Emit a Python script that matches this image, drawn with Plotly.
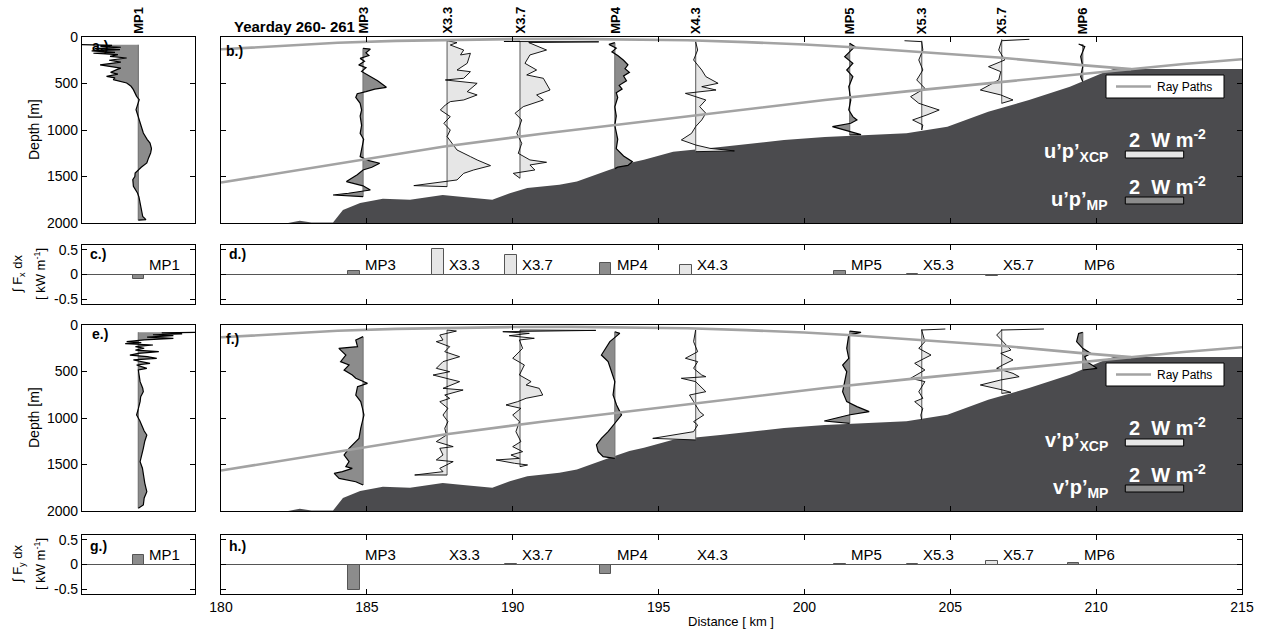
import plotly.graph_objects as go

W, H = 1262, 629
FONT = "Liberation Sans"

# ---------------- data ----------------
STATIONS = ["MP3", "X3.3", "X3.7", "MP4", "X4.3", "MP5", "X5.3", "X5.7", "MP6"]
STATION_KM = [184.87, 187.75, 190.25, 193.5, 196.27, 201.55, 204.02, 206.76, 209.54]
STATION_KIND = ["MP", "XCP", "XCP", "MP", "XCP", "MP", "XCP", "XCP", "MP"]

# depth-integrated fluxes [kW m^-1]
FX_MP1 = -0.10
FY_MP1 = 0.20
FX_INT = [0.08, 0.52, 0.39, 0.24, 0.19, 0.08, 0.02, -0.035, -0.01]
FY_INT = [-0.52, -0.02, 0.005, -0.20, -0.01, 0.01, 0.02, 0.08, 0.03]

# bathymetry along the section (km, depth m)
BATHY_KM = [180, 182.3, 182.7, 183.1, 183.84, 184.18, 184.77, 185.55, 186.48, 187.6, 188.3,
            189.3, 189.9, 190.5, 191.6, 192.2, 193.3, 194.0, 194.5, 195.2, 195.5, 197.2,
            199.3, 200.7, 203.5, 204.9, 206.3, 207.7, 209.1, 210.3, 210.6, 215]
BATHY_DEPTH = [2000, 2000, 1975, 1995, 1995, 1860, 1785, 1740, 1750, 1700, 1720,
               1750, 1680, 1625, 1590, 1555, 1430, 1355, 1320, 1260, 1235, 1180,
               1107, 1075, 1035, 965, 805, 677, 535, 376, 344, 344]

# ray paths (km, depth m)
RAY_A_KM = [180, 184, 187.6, 191, 194, 197, 200.7, 203.5, 206.3, 209, 211.2, 213, 215]
RAY_A_DEPTH = [1565, 1360, 1180, 1040, 927, 820, 677, 585, 497, 415, 345, 290, 240]
RAY_B_KM = [180, 182, 184, 186, 188, 190, 192, 194, 196, 198, 200, 201.5, 203.9, 206.65, 209.4, 211.2]
RAY_B_DEPTH = [132, 95, 62, 42, 30, 22, 20, 24, 35, 55, 80, 108, 162, 220, 300, 345]

# flux profiles: (depth m, flux W m^-2)
U_MP1 = [(82, -1.94), (90, -0.9), (100, -1.3), (110, -0.6), (125, -1.5), (136, -0.63), (150, -1.6),
         (165, -0.8), (175, -1.54), (190, -0.7), (208, -0.97), (226, -0.4), (250, -1.0), (270, -0.6),
         (300, -1.31), (315, -1.0), (335, -0.6), (351, -0.74), (380, -0.95), (400, -0.7), (423, -1.09),
         (440, -0.8), (459, -0.86), (494, -0.4), (530, -0.25), (566, -0.17), (638, -0.06), (674, 0.03),
         (781, -0.08), (860, 0.0), (925, 0.06), (1032, 0.17), (1100, 0.3), (1140, 0.4), (1200, 0.45),
         (1247, 0.42), (1300, 0.35), (1354, 0.29), (1400, 0.1), (1426, 0.0), (1462, -0.11), (1500, -0.12),
         (1534, -0.19), (1605, -0.17), (1640, -0.1), (1677, -0.03), (1720, 0.02), (1784, 0.06),
         (1840, 0.09), (1892, 0.11), (1930, 0.15), (1963, 0.26), (1970, 0.0)]
V_MP1 = [(79, 1.94), (85, 0.8), (95, 1.5), (105, 0.5), (115, 1.2), (130, 0.3), (143, 1.2), (160, 0.2),
         (179, -0.4), (190, 0.1), (200, -0.45), (215, 0.5), (233, -0.1), (250, 0.2), (270, -0.1),
         (287, 0.7), (305, 0.0), (323, -0.29), (340, 0.3), (358, 0.63), (376, -0.17), (395, 0.2),
         (412, 0.4), (430, -0.06), (450, 0.1), (466, 0.29), (484, 0.0), (540, 0.02), (609, 0.06),
         (680, 0.15), (717, 0.17), (770, 0.08), (824, 0.06), (900, 0.0), (968, -0.06), (1030, 0.05),
         (1075, 0.11), (1140, 0.2), (1183, 0.29), (1250, 0.22), (1326, 0.17), (1400, 0.1), (1469, 0.06),
         (1540, 0.14), (1613, 0.17), (1700, 0.22), (1792, 0.29), (1860, 0.2), (1935, 0.17), (1971, 0.0)]

U_MP3 = [(122, 0), (130, 0.25), (170, 0.1), (200, 0.2), (230, -0.1), (260, 0.05), (300, -0.15),
         (330, 0.1), (370, -0.05), (420, 0.25), (470, 0.5), (541, 0.8), (560, 0.4), (588, 0.1),
         (610, -0.2), (650, -0.25), (713, -0.1), (785, -0.05), (850, -0.1), (950, -0.05), (1036, -0.1),
         (1100, 0.02), (1200, -0.05), (1286, -0.1), (1330, 0.2), (1358, 0.57), (1400, 0.3), (1430, 0),
         (1480, -0.2), (1555, -0.57), (1600, 0), (1645, 0.25), (1680, -0.5), (1699, -1.03), (1717, 0)]
U_X33 = [(40, 0), (61, 0.34), (86, 0.11), (140, 0.57), (193, 0.46), (175, 0.8), (283, 0.69),
         (355, 0.34), (373, 0.8), (444, 0.57), (462, -0.06), (480, 0.46), (498, 1.03), (588, 0.69),
         (623, 1.03), (677, 0.57), (695, 0.11), (731, -0.06), (785, -0.23), (856, 0.11), (928, -0.11),
         (1000, 0.11), (1071, 0), (1143, 0.17), (1215, 0.34), (1286, 0.8), (1322, 1.03), (1383, 1.49),
         (1430, 0.91), (1466, 0.57), (1537, 0.34), (1598, -1.14), (1609, 0)]
U_X37 = [(45, 0), (48, -0.55), (52, 2.7), (60, 0.3), (140, 0.91), (193, 0.34), (283, 0.17),
         (355, 0.57), (408, 0.23), (444, 0.8), (570, 1.03), (623, 0.57), (677, 0.8), (749, 0.11),
         (820, -0.17), (892, 0.06), (1036, -0.11), (1143, 0.06), (1251, -0.06), (1322, 0.34),
         (1347, 0.91), (1376, 0.34), (1430, 0.51), (1466, -0.23), (1519, 0)]
U_MP4 = [(61, 0), (80, -0.2), (120, 0.05), (160, -0.1), (200, 0.1), (250, 0.3), (300, 0.45),
         (340, 0.35), (380, 0.5), (420, 0.3), (470, 0.4), (520, 0.15), (560, 0.25), (600, 0.05),
         (650, 0.1), (750, 0), (850, 0.05), (950, 0), (1100, 0.1), (1200, 0.05), (1280, 0.3),
         (1340, 0.6), (1380, 0.45), (1400, 0.1), (1415, 0)]
U_X43 = [(50, 0), (140, 0.07), (247, -0.07), (355, 0.21), (426, 0.35), (498, 0.77), (534, 0.21),
         (570, 0.7), (606, -0.35), (641, 0), (677, 0.35), (749, 0.14), (820, 0.35), (892, 0.21),
         (964, 0), (1036, -0.14), (1107, -0.49), (1161, 0), (1197, 0.49), (1225, 1.33), (1233, 0)]
U_MP5 = [(68, 0), (104, 0.18), (211, -0.17), (283, 0.11), (355, -0.1), (426, 0.11), (534, -0.03),
         (677, 0.04), (785, -0.03), (856, 0.11), (892, 0.25), (928, 0.04), (964, -0.59), (1018, -0.03),
         (1050, 0.39), (1054, 0)]
U_X53 = [(40, -0.59), (50, 0), (140, 0.04), (247, -0.1), (355, 0.04), (462, -0.17), (552, 0.11),
         (641, -0.38), (713, -0.1), (785, 0.6), (838, 0.18), (892, -0.31), (946, 0.04), (1000, 0)]
U_X57 = [(25, 0.95), (40, 0), (140, -0.1), (247, 0.11), (319, -0.45), (373, -0.03), (462, -0.1),
         (570, -0.73), (623, -0.03), (677, 0.39), (713, 0)]
U_MP6 = [(75, -0.14), (104, 0.07), (211, -0.07), (319, 0), (426, -0.07), (480, 0)]

V_MP3 = [(125, 0), (161, -0.25), (233, -0.19), (251, -0.83), (323, -0.59), (394, -0.77), (430, -0.48),
         (484, -0.65), (538, -0.37), (573, -0.25), (627, 0.15), (663, -0.19), (753, -0.25), (824, -0.08),
         (896, -0.02), (968, 0.03), (1111, -0.08), (1219, -0.14), (1254, -0.25), (1326, -0.48),
         (1398, -0.65), (1469, -0.48), (1523, -0.59), (1541, -0.37), (1577, -0.71), (1595, -0.99),
         (1649, -0.82), (1685, -0.25), (1720, 0)]
V_X33 = [(54, 0), (65, 0.32), (108, -0.25), (161, -0.14), (179, -0.37), (233, 0.09), (287, -0.08),
         (341, 0.43), (394, -0.14), (466, -0.37), (502, 0.09), (538, -0.48), (609, 0.43), (681, -0.14),
         (699, 0.55), (753, -0.08), (789, 0.09), (824, -0.25), (896, 0.03), (968, -0.14), (1039, 0.03),
         (1111, -0.08), (1183, -0.02), (1254, -0.37), (1308, 0.21), (1326, -0.25), (1398, -0.14),
         (1451, -0.37), (1469, 0.21), (1541, -0.25), (1577, -0.14), (1613, -1.11), (1613, 0)]
V_X37 = [(54, 0), (58, 2.6), (72, -0.59), (90, 0.32), (115, -0.37), (143, 0.49), (161, -0.02),
         (251, 0.09), (358, -0.25), (430, 0.15), (538, -0.02), (609, 0.38), (645, 0.21), (681, 0.66),
         (753, 0.78), (788, 0.21), (824, -0.08), (860, -0.48), (896, 0.03), (968, -0.25), (1039, -0.02),
         (1147, -0.14), (1254, 0.03), (1308, -0.25), (1362, 0.09), (1398, -0.31), (1434, -0.02),
         (1451, -0.82), (1487, -0.19), (1505, 0.26), (1523, 0)]
V_MP4 = [(72, 0), (90, 0.17), (179, -0.17), (287, -0.4), (323, -0.46), (394, -0.23), (502, -0.11),
         (609, 0), (753, -0.06), (860, 0.06), (968, 0.23), (1039, 0.06), (1147, -0.23), (1219, -0.46),
         (1290, -0.63), (1362, -0.57), (1416, -0.4), (1434, 0)]
V_X43 = [(54, 0), (179, -0.07), (287, 0.07), (358, -0.35), (394, 0.07), (466, -0.07), (538, 0.21),
         (556, 0.35), (573, -0.49), (609, 0), (717, 0.35), (753, -0.21), (824, -0.07), (932, 0.14),
         (968, 0.28), (1039, -0.07), (1075, 0.07), (1147, -0.07), (1219, -1.47), (1236, 0)]
V_MP5 = [(65, 0), (79, 0.39), (108, -0.03), (251, -0.1), (358, -0.03), (430, -0.24), (502, -0.1),
         (609, -0.17), (717, -0.24), (824, -0.1), (878, 0.25), (932, 0.67), (968, -0.03), (1032, -0.87),
         (1057, 0)]
V_X53 = [(43, 0.81), (54, 0), (179, 0.11), (251, -0.1), (323, 0.32), (412, -0.24), (484, 0.11),
         (538, -0.17), (573, -0.38), (609, 0.11), (717, -0.1), (788, 0.04), (824, -0.24), (896, 0.04),
         (968, -0.03), (1021, 0)]
V_X57 = [(43, 1.45), (54, 0), (108, -0.17), (179, 0.04), (269, 0.32), (305, -0.03), (376, 0.39),
         (430, 0.04), (466, -0.17), (520, 0.39), (556, 0.6), (591, -0.03), (645, -0.73), (699, 0.04),
         (724, 0.32), (735, 0)]
V_MP6 = [(79, 0), (90, -0.14), (179, -0.21), (251, 0), (305, 0.28), (341, 0.07), (394, 0.14),
         (466, 0.49), (484, 0)]

U_PROFILES = [U_MP3, U_X33, U_X37, U_MP4, U_X43, U_MP5, U_X53, U_X57, U_MP6]
V_PROFILES = [V_MP3, V_X33, V_X37, V_MP4, V_X43, V_MP5, V_X53, V_X57, V_MP6]

# ---------------- styling ----------------
KM_PER_FLUX = 1.0          # horizontal scale of the profiles: 1 W m^-2 -> 1 km
SCALE_FLUX = 2             # reference bar, W m^-2
BAR_WIDTH = 0.4
BAR_SHIFT = -0.32
LABEL_GAP = 0.31
C_MP = "#8c8c8c"
C_XCP = "#e6e6e6"
C_BATHY = "#4b4b4e"
C_RAY = "#a3a3a3"
FILL = {"MP": C_MP, "XCP": C_XCP}


def px(x):
    return x / W


def py(y):
    return 1 - y / H


XL = [px(82), px(195)]
XR = [px(221), px(1242)]
ROWS = {"ab": (37, 223), "cd": (245, 304), "ef": (325, 511), "gh": (535, 594)}
LEFT_RANGE = [-1.93, 1.94]

fig = go.Figure()


def add_profile(pts, x0, color, xa, ya, lw=1.0):
    d = [p[0] for p in pts]
    xs = [x0 + KM_PER_FLUX * p[1] for p in pts]
    fig.add_trace(go.Scatter(x=xs + [x0, x0], y=d + [d[-1], d[0]], mode="lines", fill="toself",
                             fillcolor=color, line=dict(width=0), xaxis=xa, yaxis=ya,
                             hoverinfo="skip", showlegend=False))
    fig.add_trace(go.Scatter(x=[x0, x0], y=[d[0], d[-1]], mode="lines",
                             line=dict(color="#7a7a7a", width=1.3), xaxis=xa, yaxis=ya,
                             hoverinfo="skip", showlegend=False))
    fig.add_trace(go.Scatter(x=xs, y=d, mode="lines", line=dict(color="black", width=lw),
                             xaxis=xa, yaxis=ya, hoverinfo="skip", showlegend=False))


def add_section(profiles, xa, ya):
    # sea floor
    fig.add_trace(go.Scatter(x=BATHY_KM + [215, 180], y=BATHY_DEPTH + [2000, 2000], mode="lines",
                             fill="toself", fillcolor=C_BATHY, line=dict(width=0, color=C_BATHY),
                             xaxis=xa, yaxis=ya, hoverinfo="skip", showlegend=False))
    for pts, km, kind in zip(profiles, STATION_KM, STATION_KIND):
        add_profile(pts, km, FILL[kind], xa, ya, lw=1.2 if kind == "MP" else 0.9)
    for rk, rd in ((RAY_A_KM, RAY_A_DEPTH), (RAY_B_KM, RAY_B_DEPTH)):
        fig.add_trace(go.Scatter(x=rk, y=rd, mode="lines", line=dict(color=C_RAY, width=2.6),
                                 xaxis=xa, yaxis=ya, hoverinfo="skip", showlegend=False))


# a / e : MP1 profiles
add_profile(U_MP1, 0, C_MP, "x", "y", lw=1.2)
add_profile(V_MP1, 0, C_MP, "x5", "y5", lw=1.2)
# b / f : sections
add_section(U_PROFILES, "x2", "y2")
add_section(V_PROFILES, "x6", "y6")

# c, d, g, h : integrated fluxes
bar_x = [km + BAR_SHIFT for km in STATION_KM]
bar_c = [FILL[k] for k in STATION_KIND]
for val_mp1, vals, xl, yl, xr, yr in ((FX_MP1, FX_INT, "x3", "y3", "x4", "y4"),
                                      (FY_MP1, FY_INT, "x7", "y7", "x8", "y8")):
    fig.add_trace(go.Bar(x=[0], y=[val_mp1], width=BAR_WIDTH, marker=dict(color=C_MP, line=dict(color="#555", width=1)),
                         xaxis=xl, yaxis=yl, hoverinfo="skip", showlegend=False))
    fig.add_trace(go.Bar(x=bar_x, y=vals, width=BAR_WIDTH, marker=dict(color=bar_c, line=dict(color="#555", width=1)),
                         xaxis=xr, yaxis=yr, hoverinfo="skip", showlegend=False))

base_ax = dict(showline=True, linecolor="black", linewidth=1.2, mirror="ticks", ticks="inside",
               ticklen=5, tickcolor="black", showgrid=False, zeroline=False,
               tickfont=dict(size=14, family=FONT, color="black"))

layout_axes = {}
flux_ticks = dict(tickvals=[-0.5, 0, 0.5], ticktext=["-0.5", "0", "0.5"])
for i, (row, side) in enumerate([("ab", "L"), ("ab", "R"), ("cd", "L"), ("cd", "R"),
                                 ("ef", "L"), ("ef", "R"), ("gh", "L"), ("gh", "R")], start=1):
    sfx = "" if i == 1 else str(i)
    y0, y1 = ROWS[row]
    xa = dict(base_ax, domain=XL if side == "L" else XR, anchor="y" + sfx)
    ya = dict(base_ax, domain=[py(y1), py(y0)], anchor="x" + sfx)
    if side == "L":
        xa.update(range=LEFT_RANGE, ticks="", showticklabels=False)
    else:
        xa.update(range=[180, 215], tickvals=list(range(180, 216, 5)), showticklabels=(row == "gh"))
    if row in ("ab", "ef"):
        if side == "L":
            ya.update(range=[2000, 0], tickvals=[0, 500, 1000, 1500, 2000], showticklabels=True)
        else:
            ya.update(range=[2000, 0], tickvals=[500, 1000, 1500], showticklabels=False)
    else:
        ya.update(range=[-0.6, 0.6], zeroline=True, zerolinecolor="#555", zerolinewidth=1.2,
                  showticklabels=(side == "L"), **flux_ticks)
    layout_axes["xaxis" + sfx] = xa
    layout_axes["yaxis" + sfx] = ya

ann = []


def text(x, y, s, size=14, bold=False, xanchor="center", yanchor="middle", angle=0, color="black",
         xref="paper", yref="paper"):
    ann.append(dict(x=x, y=y, xref=xref, yref=yref, text=f"<b>{s}</b>" if bold else s, showarrow=False,
                    xanchor=xanchor, yanchor=yanchor, textangle=angle,
                    font=dict(family=FONT, size=size, color=color)))


# titles and station names
text(px(294), py(27), "Yearday 260- 261", size=15, bold=True)
text(0, py(36), "MP1", size=13, bold=True, yanchor="bottom", angle=-90, xref="x")
for name, km in zip(STATIONS, STATION_KM):
    text(km, py(36), name, size=13, bold=True, yanchor="bottom", angle=-90, xref="x2")

# panel letters
for lab, x, y in (("a.)", 90, 46), ("b.)", 224, 51), ("c.)", 88, 254), ("d.)", 227, 254),
                  ("e.)", 90, 334), ("f.)", 224, 339), ("g.)", 88, 546), ("h.)", 227, 546)):
    text(px(x), py(y), lab, size=14, bold=True, xanchor="left")

# bar labels
for xr, yr, xl, yl in (("x4", "y4", "x3", "y3"), ("x8", "y8", "x7", "y7")):
    text(0 + LABEL_GAP, 0.2, "MP1", size=15, xanchor="left", xref=xl, yref=yl)
    for name, bx in zip(STATIONS, bar_x):
        text(bx + LABEL_GAP, 0.2, name, size=15, xanchor="left", xref=xr, yref=yr)

# axis titles
for yc in (130, 418):
    text(px(34), py(yc), "Depth [m]", size=14, angle=-90)
for yc, comp in ((274, "x"), (564, "y")):
    text(px(18), py(yc), f"∫ F<sub>{comp}</sub> dx", size=13, angle=-90)
    text(px(40), py(yc), "[ kW m<sup>-1</sup>]", size=13, angle=-90)
text(px(731), py(621), "Distance [ km ]", size=13)

# legends drawn inside the section panels
shapes = []
for top, comp in ((37, "u"), (325, "v")):
    # ray path key
    shapes.append(dict(type="rect", xref="paper", yref="paper", x0=px(1106), x1=px(1224),
                       y0=py(top + 61), y1=py(top + 38), fillcolor="white",
                       line=dict(color="black", width=1), layer="above"))
    shapes.append(dict(type="line", xref="paper", yref="paper", x0=px(1116), x1=px(1151),
                       y0=py(top + 49.5), y1=py(top + 49.5), line=dict(color=C_RAY, width=2.6),
                       layer="above"))
    text(px(1155), py(top + 49.5), "Ray Paths", size=12, xanchor="left")
    # flux scale bars
    for (dy_txt, dy_val, dy_bar, kind, sub) in ((116, 101, 114, "XCP", "XCP"), (163, 148, 160, "MP", "MP")):
        text(px(1110), py(top + dy_txt), f"{comp}’p’<sub>{sub}</sub>", size=20, bold=True,
             xanchor="right", color="white")
        text(px(1127), py(top + dy_val), "2  W m<sup>-2</sup>", size=20, bold=True,
             xanchor="left", color="white")
        shapes.append(dict(type="rect", xref="x2", yref="paper", x0=211.0,
                           x1=211.0 + SCALE_FLUX * KM_PER_FLUX, y0=py(top + dy_bar + 7),
                           y1=py(top + dy_bar), fillcolor=FILL[kind],
                           line=dict(color="black", width=1), layer="above"))

fig.update_layout(width=W, height=H, margin=dict(l=0, r=0, t=0, b=0, autoexpand=False),
                  paper_bgcolor="white", plot_bgcolor="white", showlegend=False,
                  font=dict(family=FONT, size=14, color="black"),
                  annotations=ann, shapes=shapes, bargap=0, **layout_axes)

fig.write_html("out.html")
